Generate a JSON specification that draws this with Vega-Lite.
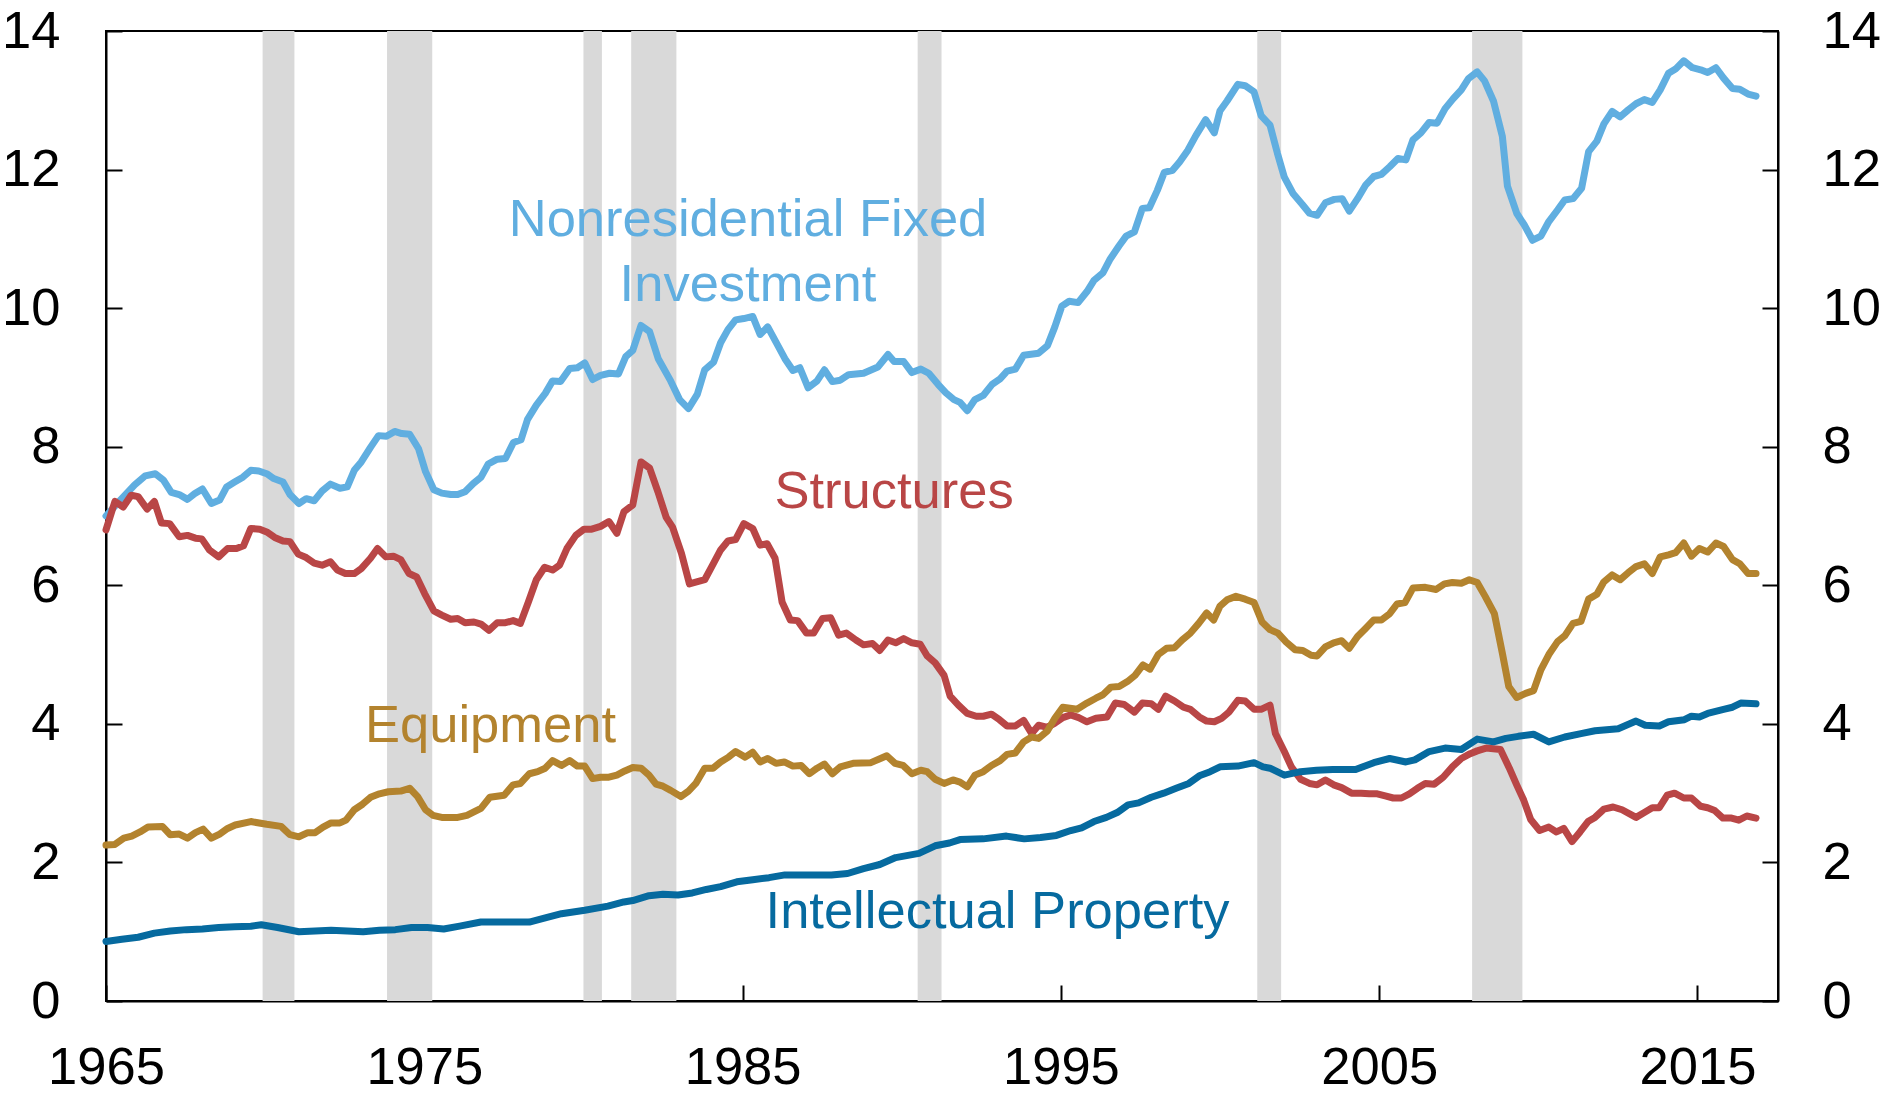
{
  "$schema": "https://vega.github.io/schema/vega-lite/v6.json",
  "width": 1672,
  "height": 970,
  "autosize": {"type": "none"},
  "padding": {"left": 106, "top": 31, "right": 105, "bottom": 94},
  "background": "white",
  "config": {
    "font": "Liberation Sans",
    "view": {"stroke": "black", "strokeWidth": 2},
    "axis": {
      "grid": false,
      "title": null,
      "labelFont": "Liberation Sans",
      "labelFontSize": 52.5,
      "labelColor": "black",
      "domainColor": "black",
      "domainWidth": 2,
      "tickColor": "black",
      "tickWidth": 2,
      "tickSize": -16,
      "labelOverlap": false,
      "labelFlush": false,
      "labelBound": false
    }
  },
  "datasets": {
    "recessions": [
      {"start": 1969.92, "end": 1970.92},
      {"start": 1973.83, "end": 1975.25},
      {"start": 1980.0, "end": 1980.58},
      {"start": 1981.5, "end": 1982.92},
      {"start": 1990.5, "end": 1991.25},
      {"start": 2001.17, "end": 2001.92},
      {"start": 2007.92, "end": 2009.5}
    ],
    "labels": [
      {"series": "NFI", "year": 1985.17, "value": 11.04, "text": "Nonresidential Fixed"},
      {"series": "NFI", "year": 1985.17, "value": 10.1, "text": "Investment"},
      {"series": "Structures", "year": 1989.76, "value": 7.11, "text": "Structures"},
      {"series": "Equipment", "year": 1977.08, "value": 3.74, "text": "Equipment"},
      {"series": "IP", "year": 1993.01, "value": 1.05, "text": "Intellectual Property"}
    ],
    "series": [
      {"series":"NFI","year":1965.0,"value":7.0},
      {"series":"NFI","year":1965.45,"value":7.23},
      {"series":"NFI","year":1965.9,"value":7.45},
      {"series":"NFI","year":1966.23,"value":7.58},
      {"series":"NFI","year":1966.55,"value":7.61},
      {"series":"NFI","year":1966.8,"value":7.52},
      {"series":"NFI","year":1967.05,"value":7.34},
      {"series":"NFI","year":1967.3,"value":7.31},
      {"series":"NFI","year":1967.56,"value":7.24},
      {"series":"NFI","year":1967.78,"value":7.32},
      {"series":"NFI","year":1968.03,"value":7.39},
      {"series":"NFI","year":1968.31,"value":7.18},
      {"series":"NFI","year":1968.57,"value":7.23},
      {"series":"NFI","year":1968.79,"value":7.42},
      {"series":"NFI","year":1969.04,"value":7.49},
      {"series":"NFI","year":1969.3,"value":7.56},
      {"series":"NFI","year":1969.55,"value":7.66},
      {"series":"NFI","year":1969.8,"value":7.65},
      {"series":"NFI","year":1970.05,"value":7.61},
      {"series":"NFI","year":1970.27,"value":7.54},
      {"series":"NFI","year":1970.56,"value":7.49},
      {"series":"NFI","year":1970.78,"value":7.31},
      {"series":"NFI","year":1971.06,"value":7.18},
      {"series":"NFI","year":1971.29,"value":7.25},
      {"series":"NFI","year":1971.54,"value":7.22},
      {"series":"NFI","year":1971.79,"value":7.36},
      {"series":"NFI","year":1972.05,"value":7.46},
      {"series":"NFI","year":1972.35,"value":7.4},
      {"series":"NFI","year":1972.58,"value":7.42},
      {"series":"NFI","year":1972.8,"value":7.66},
      {"series":"NFI","year":1973.02,"value":7.78},
      {"series":"NFI","year":1973.31,"value":7.99},
      {"series":"NFI","year":1973.56,"value":8.16},
      {"series":"NFI","year":1973.81,"value":8.15},
      {"series":"NFI","year":1974.07,"value":8.22},
      {"series":"NFI","year":1974.29,"value":8.19},
      {"series":"NFI","year":1974.54,"value":8.18},
      {"series":"NFI","year":1974.82,"value":7.97},
      {"series":"NFI","year":1975.04,"value":7.64},
      {"series":"NFI","year":1975.3,"value":7.38},
      {"series":"NFI","year":1975.55,"value":7.33},
      {"series":"NFI","year":1975.83,"value":7.31},
      {"series":"NFI","year":1976.05,"value":7.31},
      {"series":"NFI","year":1976.28,"value":7.35},
      {"series":"NFI","year":1976.54,"value":7.47},
      {"series":"NFI","year":1976.78,"value":7.56},
      {"series":"NFI","year":1977.01,"value":7.75},
      {"series":"NFI","year":1977.29,"value":7.82},
      {"series":"NFI","year":1977.55,"value":7.83},
      {"series":"NFI","year":1977.8,"value":8.06},
      {"series":"NFI","year":1978.04,"value":8.1},
      {"series":"NFI","year":1978.24,"value":8.39},
      {"series":"NFI","year":1978.52,"value":8.6},
      {"series":"NFI","year":1978.8,"value":8.77},
      {"series":"NFI","year":1979.03,"value":8.95},
      {"series":"NFI","year":1979.28,"value":8.94},
      {"series":"NFI","year":1979.57,"value":9.13},
      {"series":"NFI","year":1979.81,"value":9.14},
      {"series":"NFI","year":1980.04,"value":9.21},
      {"series":"NFI","year":1980.29,"value":8.97},
      {"series":"NFI","year":1980.54,"value":9.03},
      {"series":"NFI","year":1980.82,"value":9.06},
      {"series":"NFI","year":1981.1,"value":9.05},
      {"series":"NFI","year":1981.33,"value":9.3},
      {"series":"NFI","year":1981.55,"value":9.39},
      {"series":"NFI","year":1981.81,"value":9.75},
      {"series":"NFI","year":1982.08,"value":9.66},
      {"series":"NFI","year":1982.35,"value":9.27},
      {"series":"NFI","year":1982.74,"value":8.95},
      {"series":"NFI","year":1983.02,"value":8.68},
      {"series":"NFI","year":1983.3,"value":8.55},
      {"series":"NFI","year":1983.58,"value":8.76},
      {"series":"NFI","year":1983.81,"value":9.11},
      {"series":"NFI","year":1984.09,"value":9.22},
      {"series":"NFI","year":1984.31,"value":9.5},
      {"series":"NFI","year":1984.54,"value":9.69},
      {"series":"NFI","year":1984.78,"value":9.83},
      {"series":"NFI","year":1985.04,"value":9.85},
      {"series":"NFI","year":1985.32,"value":9.88},
      {"series":"NFI","year":1985.55,"value":9.62},
      {"series":"NFI","year":1985.79,"value":9.73},
      {"series":"NFI","year":1986.05,"value":9.51},
      {"series":"NFI","year":1986.33,"value":9.27},
      {"series":"NFI","year":1986.58,"value":9.1},
      {"series":"NFI","year":1986.8,"value":9.14},
      {"series":"NFI","year":1987.06,"value":8.85},
      {"series":"NFI","year":1987.34,"value":8.95},
      {"series":"NFI","year":1987.57,"value":9.11},
      {"series":"NFI","year":1987.82,"value":8.94},
      {"series":"NFI","year":1988.07,"value":8.96},
      {"series":"NFI","year":1988.33,"value":9.04},
      {"series":"NFI","year":1988.8,"value":9.06},
      {"series":"NFI","year":1989.25,"value":9.15},
      {"series":"NFI","year":1989.57,"value":9.33},
      {"series":"NFI","year":1989.76,"value":9.23},
      {"series":"NFI","year":1990.06,"value":9.23},
      {"series":"NFI","year":1990.32,"value":9.07},
      {"series":"NFI","year":1990.6,"value":9.12},
      {"series":"NFI","year":1990.85,"value":9.06},
      {"series":"NFI","year":1991.14,"value":8.9},
      {"series":"NFI","year":1991.38,"value":8.78},
      {"series":"NFI","year":1991.64,"value":8.68},
      {"series":"NFI","year":1991.83,"value":8.64},
      {"series":"NFI","year":1992.06,"value":8.52},
      {"series":"NFI","year":1992.3,"value":8.68},
      {"series":"NFI","year":1992.56,"value":8.74},
      {"series":"NFI","year":1992.84,"value":8.9},
      {"series":"NFI","year":1993.09,"value":8.98},
      {"series":"NFI","year":1993.31,"value":9.09},
      {"series":"NFI","year":1993.57,"value":9.12},
      {"series":"NFI","year":1993.83,"value":9.32},
      {"series":"NFI","year":1994.3,"value":9.35},
      {"series":"NFI","year":1994.58,"value":9.46},
      {"series":"NFI","year":1994.81,"value":9.73},
      {"series":"NFI","year":1995.03,"value":10.03},
      {"series":"NFI","year":1995.26,"value":10.1},
      {"series":"NFI","year":1995.54,"value":10.08},
      {"series":"NFI","year":1995.82,"value":10.24},
      {"series":"NFI","year":1996.04,"value":10.4},
      {"series":"NFI","year":1996.32,"value":10.51},
      {"series":"NFI","year":1996.55,"value":10.71},
      {"series":"NFI","year":1996.83,"value":10.9},
      {"series":"NFI","year":1997.05,"value":11.04},
      {"series":"NFI","year":1997.31,"value":11.1},
      {"series":"NFI","year":1997.56,"value":11.44},
      {"series":"NFI","year":1997.78,"value":11.45},
      {"series":"NFI","year":1998.03,"value":11.7},
      {"series":"NFI","year":1998.25,"value":11.96},
      {"series":"NFI","year":1998.51,"value":11.99},
      {"series":"NFI","year":1998.73,"value":12.11},
      {"series":"NFI","year":1998.99,"value":12.28},
      {"series":"NFI","year":1999.24,"value":12.49},
      {"series":"NFI","year":1999.55,"value":12.72},
      {"series":"NFI","year":1999.82,"value":12.53},
      {"series":"NFI","year":2000.0,"value":12.85},
      {"series":"NFI","year":2000.22,"value":12.99},
      {"series":"NFI","year":2000.56,"value":13.23},
      {"series":"NFI","year":2000.79,"value":13.21},
      {"series":"NFI","year":2001.07,"value":13.12},
      {"series":"NFI","year":2001.29,"value":12.78},
      {"series":"NFI","year":2001.57,"value":12.64},
      {"series":"NFI","year":2001.8,"value":12.24},
      {"series":"NFI","year":2002.02,"value":11.89},
      {"series":"NFI","year":2002.3,"value":11.65},
      {"series":"NFI","year":2002.58,"value":11.5},
      {"series":"NFI","year":2002.81,"value":11.37},
      {"series":"NFI","year":2003.05,"value":11.34},
      {"series":"NFI","year":2003.31,"value":11.52},
      {"series":"NFI","year":2003.59,"value":11.57},
      {"series":"NFI","year":2003.84,"value":11.58},
      {"series":"NFI","year":2004.06,"value":11.4},
      {"series":"NFI","year":2004.32,"value":11.58},
      {"series":"NFI","year":2004.58,"value":11.78},
      {"series":"NFI","year":2004.83,"value":11.9},
      {"series":"NFI","year":2005.07,"value":11.93},
      {"series":"NFI","year":2005.33,"value":12.04},
      {"series":"NFI","year":2005.59,"value":12.16},
      {"series":"NFI","year":2005.84,"value":12.14},
      {"series":"NFI","year":2006.06,"value":12.43},
      {"series":"NFI","year":2006.31,"value":12.53},
      {"series":"NFI","year":2006.57,"value":12.68},
      {"series":"NFI","year":2006.82,"value":12.67},
      {"series":"NFI","year":2007.07,"value":12.88},
      {"series":"NFI","year":2007.32,"value":13.02},
      {"series":"NFI","year":2007.58,"value":13.15},
      {"series":"NFI","year":2007.8,"value":13.31},
      {"series":"NFI","year":2008.08,"value":13.41},
      {"series":"NFI","year":2008.31,"value":13.28},
      {"series":"NFI","year":2008.59,"value":12.99},
      {"series":"NFI","year":2008.87,"value":12.48},
      {"series":"NFI","year":2009.03,"value":11.76},
      {"series":"NFI","year":2009.32,"value":11.37},
      {"series":"NFI","year":2009.56,"value":11.2},
      {"series":"NFI","year":2009.82,"value":10.98},
      {"series":"NFI","year":2010.08,"value":11.04},
      {"series":"NFI","year":2010.33,"value":11.25},
      {"series":"NFI","year":2010.61,"value":11.42},
      {"series":"NFI","year":2010.83,"value":11.56},
      {"series":"NFI","year":2011.09,"value":11.58},
      {"series":"NFI","year":2011.36,"value":11.73},
      {"series":"NFI","year":2011.58,"value":12.26},
      {"series":"NFI","year":2011.84,"value":12.41},
      {"series":"NFI","year":2012.06,"value":12.66},
      {"series":"NFI","year":2012.32,"value":12.84},
      {"series":"NFI","year":2012.57,"value":12.76},
      {"series":"NFI","year":2012.82,"value":12.86},
      {"series":"NFI","year":2013.07,"value":12.95},
      {"series":"NFI","year":2013.33,"value":13.01},
      {"series":"NFI","year":2013.58,"value":12.97},
      {"series":"NFI","year":2013.83,"value":13.15},
      {"series":"NFI","year":2014.09,"value":13.39},
      {"series":"NFI","year":2014.31,"value":13.45},
      {"series":"NFI","year":2014.57,"value":13.57},
      {"series":"NFI","year":2014.84,"value":13.47},
      {"series":"NFI","year":2015.1,"value":13.44},
      {"series":"NFI","year":2015.32,"value":13.4},
      {"series":"NFI","year":2015.58,"value":13.47},
      {"series":"NFI","year":2015.82,"value":13.32},
      {"series":"NFI","year":2016.1,"value":13.17},
      {"series":"NFI","year":2016.33,"value":13.16},
      {"series":"NFI","year":2016.59,"value":13.09},
      {"series":"NFI","year":2016.84,"value":13.06},

      {"series":"Structures","year":1965.0,"value":6.8},
      {"series":"Structures","year":1965.28,"value":7.21},
      {"series":"Structures","year":1965.54,"value":7.13},
      {"series":"Structures","year":1965.79,"value":7.3},
      {"series":"Structures","year":1966.01,"value":7.28},
      {"series":"Structures","year":1966.29,"value":7.1},
      {"series":"Structures","year":1966.52,"value":7.21},
      {"series":"Structures","year":1966.74,"value":6.9},
      {"series":"Structures","year":1967.0,"value":6.89},
      {"series":"Structures","year":1967.3,"value":6.7},
      {"series":"Structures","year":1967.56,"value":6.72},
      {"series":"Structures","year":1967.81,"value":6.68},
      {"series":"Structures","year":1968.01,"value":6.67},
      {"series":"Structures","year":1968.25,"value":6.51},
      {"series":"Structures","year":1968.54,"value":6.41},
      {"series":"Structures","year":1968.82,"value":6.53},
      {"series":"Structures","year":1969.1,"value":6.53},
      {"series":"Structures","year":1969.32,"value":6.57},
      {"series":"Structures","year":1969.55,"value":6.82},
      {"series":"Structures","year":1969.83,"value":6.81},
      {"series":"Structures","year":1970.05,"value":6.77},
      {"series":"Structures","year":1970.3,"value":6.69},
      {"series":"Structures","year":1970.56,"value":6.64},
      {"series":"Structures","year":1970.78,"value":6.63},
      {"series":"Structures","year":1971.04,"value":6.45},
      {"series":"Structures","year":1971.29,"value":6.4},
      {"series":"Structures","year":1971.54,"value":6.32},
      {"series":"Structures","year":1971.79,"value":6.29},
      {"series":"Structures","year":1972.05,"value":6.34},
      {"series":"Structures","year":1972.27,"value":6.22},
      {"series":"Structures","year":1972.52,"value":6.17},
      {"series":"Structures","year":1972.8,"value":6.17},
      {"series":"Structures","year":1973.02,"value":6.24},
      {"series":"Structures","year":1973.31,"value":6.39},
      {"series":"Structures","year":1973.53,"value":6.53},
      {"series":"Structures","year":1973.79,"value":6.41},
      {"series":"Structures","year":1974.03,"value":6.42},
      {"series":"Structures","year":1974.26,"value":6.37},
      {"series":"Structures","year":1974.52,"value":6.17},
      {"series":"Structures","year":1974.76,"value":6.12},
      {"series":"Structures","year":1975.01,"value":5.88},
      {"series":"Structures","year":1975.3,"value":5.63},
      {"series":"Structures","year":1975.55,"value":5.57},
      {"series":"Structures","year":1975.83,"value":5.51},
      {"series":"Structures","year":1976.05,"value":5.52},
      {"series":"Structures","year":1976.28,"value":5.46},
      {"series":"Structures","year":1976.56,"value":5.47},
      {"series":"Structures","year":1976.78,"value":5.44},
      {"series":"Structures","year":1977.03,"value":5.35},
      {"series":"Structures","year":1977.29,"value":5.46},
      {"series":"Structures","year":1977.55,"value":5.46},
      {"series":"Structures","year":1977.79,"value":5.49},
      {"series":"Structures","year":1978.02,"value":5.45},
      {"series":"Structures","year":1978.27,"value":5.76},
      {"series":"Structures","year":1978.52,"value":6.08},
      {"series":"Structures","year":1978.78,"value":6.26},
      {"series":"Structures","year":1979.03,"value":6.22},
      {"series":"Structures","year":1979.25,"value":6.29},
      {"series":"Structures","year":1979.48,"value":6.53},
      {"series":"Structures","year":1979.76,"value":6.72},
      {"series":"Structures","year":1980.02,"value":6.81},
      {"series":"Structures","year":1980.26,"value":6.81},
      {"series":"Structures","year":1980.54,"value":6.85},
      {"series":"Structures","year":1980.8,"value":6.92},
      {"series":"Structures","year":1981.05,"value":6.75},
      {"series":"Structures","year":1981.27,"value":7.06},
      {"series":"Structures","year":1981.55,"value":7.16},
      {"series":"Structures","year":1981.81,"value":7.78},
      {"series":"Structures","year":1982.08,"value":7.69},
      {"series":"Structures","year":1982.34,"value":7.35},
      {"series":"Structures","year":1982.6,"value":6.98},
      {"series":"Structures","year":1982.8,"value":6.84},
      {"series":"Structures","year":1983.08,"value":6.46},
      {"series":"Structures","year":1983.33,"value":6.02},
      {"series":"Structures","year":1983.81,"value":6.08},
      {"series":"Structures","year":1984.09,"value":6.32},
      {"series":"Structures","year":1984.31,"value":6.51},
      {"series":"Structures","year":1984.54,"value":6.64},
      {"series":"Structures","year":1984.78,"value":6.66},
      {"series":"Structures","year":1985.04,"value":6.89},
      {"series":"Structures","year":1985.32,"value":6.82},
      {"series":"Structures","year":1985.55,"value":6.58},
      {"series":"Structures","year":1985.77,"value":6.6},
      {"series":"Structures","year":1986.02,"value":6.39},
      {"series":"Structures","year":1986.24,"value":5.76},
      {"series":"Structures","year":1986.5,"value":5.5},
      {"series":"Structures","year":1986.73,"value":5.49},
      {"series":"Structures","year":1987.01,"value":5.31},
      {"series":"Structures","year":1987.23,"value":5.31},
      {"series":"Structures","year":1987.51,"value":5.52},
      {"series":"Structures","year":1987.77,"value":5.53},
      {"series":"Structures","year":1988.02,"value":5.28},
      {"series":"Structures","year":1988.26,"value":5.31},
      {"series":"Structures","year":1988.56,"value":5.21},
      {"series":"Structures","year":1988.8,"value":5.14},
      {"series":"Structures","year":1989.08,"value":5.16},
      {"series":"Structures","year":1989.31,"value":5.06},
      {"series":"Structures","year":1989.57,"value":5.21},
      {"series":"Structures","year":1989.81,"value":5.17},
      {"series":"Structures","year":1990.06,"value":5.23},
      {"series":"Structures","year":1990.32,"value":5.17},
      {"series":"Structures","year":1990.58,"value":5.15},
      {"series":"Structures","year":1990.8,"value":4.98},
      {"series":"Structures","year":1991.05,"value":4.88},
      {"series":"Structures","year":1991.33,"value":4.7},
      {"series":"Structures","year":1991.52,"value":4.4},
      {"series":"Structures","year":1991.78,"value":4.27},
      {"series":"Structures","year":1992.06,"value":4.15},
      {"series":"Structures","year":1992.34,"value":4.11},
      {"series":"Structures","year":1992.56,"value":4.11},
      {"series":"Structures","year":1992.82,"value":4.14},
      {"series":"Structures","year":1993.07,"value":4.06},
      {"series":"Structures","year":1993.31,"value":3.97},
      {"series":"Structures","year":1993.57,"value":3.97},
      {"series":"Structures","year":1993.83,"value":4.05},
      {"series":"Structures","year":1994.08,"value":3.86},
      {"series":"Structures","year":1994.3,"value":3.98},
      {"series":"Structures","year":1994.58,"value":3.95},
      {"series":"Structures","year":1994.81,"value":4.01},
      {"series":"Structures","year":1995.06,"value":4.09},
      {"series":"Structures","year":1995.31,"value":4.13},
      {"series":"Structures","year":1995.56,"value":4.09},
      {"series":"Structures","year":1995.82,"value":4.03},
      {"series":"Structures","year":1996.1,"value":4.08},
      {"series":"Structures","year":1996.45,"value":4.1},
      {"series":"Structures","year":1996.71,"value":4.3},
      {"series":"Structures","year":1996.99,"value":4.28},
      {"series":"Structures","year":1997.31,"value":4.17},
      {"series":"Structures","year":1997.56,"value":4.3},
      {"series":"Structures","year":1997.84,"value":4.29},
      {"series":"Structures","year":1998.06,"value":4.21},
      {"series":"Structures","year":1998.29,"value":4.4},
      {"series":"Structures","year":1998.57,"value":4.33},
      {"series":"Structures","year":1998.85,"value":4.24},
      {"series":"Structures","year":1999.07,"value":4.21},
      {"series":"Structures","year":1999.35,"value":4.1},
      {"series":"Structures","year":1999.58,"value":4.04},
      {"series":"Structures","year":1999.82,"value":4.03},
      {"series":"Structures","year":2000.05,"value":4.08},
      {"series":"Structures","year":2000.28,"value":4.17},
      {"series":"Structures","year":2000.56,"value":4.34},
      {"series":"Structures","year":2000.79,"value":4.33},
      {"series":"Structures","year":2001.07,"value":4.21},
      {"series":"Structures","year":2001.29,"value":4.21},
      {"series":"Structures","year":2001.57,"value":4.27},
      {"series":"Structures","year":2001.74,"value":3.86},
      {"series":"Structures","year":2002.02,"value":3.6},
      {"series":"Structures","year":2002.24,"value":3.38},
      {"series":"Structures","year":2002.53,"value":3.2},
      {"series":"Structures","year":2002.81,"value":3.14},
      {"series":"Structures","year":2003.05,"value":3.12},
      {"series":"Structures","year":2003.31,"value":3.19},
      {"series":"Structures","year":2003.57,"value":3.12},
      {"series":"Structures","year":2003.82,"value":3.08},
      {"series":"Structures","year":2004.13,"value":3.0},
      {"series":"Structures","year":2004.43,"value":3.0},
      {"series":"Structures","year":2004.69,"value":2.99},
      {"series":"Structures","year":2004.94,"value":2.99},
      {"series":"Structures","year":2005.19,"value":2.96},
      {"series":"Structures","year":2005.44,"value":2.93},
      {"series":"Structures","year":2005.7,"value":2.93},
      {"series":"Structures","year":2005.95,"value":2.99},
      {"series":"Structures","year":2006.2,"value":3.07},
      {"series":"Structures","year":2006.45,"value":3.14},
      {"series":"Structures","year":2006.73,"value":3.13},
      {"series":"Structures","year":2007.01,"value":3.23},
      {"series":"Structures","year":2007.3,"value":3.38},
      {"series":"Structures","year":2007.58,"value":3.5},
      {"series":"Structures","year":2007.86,"value":3.57},
      {"series":"Structures","year":2008.08,"value":3.61},
      {"series":"Structures","year":2008.36,"value":3.65},
      {"series":"Structures","year":2008.81,"value":3.63},
      {"series":"Structures","year":2009.09,"value":3.36},
      {"series":"Structures","year":2009.32,"value":3.12},
      {"series":"Structures","year":2009.54,"value":2.9},
      {"series":"Structures","year":2009.76,"value":2.62},
      {"series":"Structures","year":2010.04,"value":2.46},
      {"series":"Structures","year":2010.33,"value":2.51},
      {"series":"Structures","year":2010.57,"value":2.44},
      {"series":"Structures","year":2010.8,"value":2.49},
      {"series":"Structures","year":2011.06,"value":2.3},
      {"series":"Structures","year":2011.31,"value":2.44},
      {"series":"Structures","year":2011.56,"value":2.59},
      {"series":"Structures","year":2011.78,"value":2.65},
      {"series":"Structures","year":2012.06,"value":2.77},
      {"series":"Structures","year":2012.35,"value":2.8},
      {"series":"Structures","year":2012.63,"value":2.76},
      {"series":"Structures","year":2013.07,"value":2.65},
      {"series":"Structures","year":2013.33,"value":2.72},
      {"series":"Structures","year":2013.58,"value":2.79},
      {"series":"Structures","year":2013.8,"value":2.79},
      {"series":"Structures","year":2014.05,"value":2.97},
      {"series":"Structures","year":2014.28,"value":3.0},
      {"series":"Structures","year":2014.57,"value":2.93},
      {"series":"Structures","year":2014.81,"value":2.93},
      {"series":"Structures","year":2015.1,"value":2.81},
      {"series":"Structures","year":2015.32,"value":2.79},
      {"series":"Structures","year":2015.54,"value":2.75},
      {"series":"Structures","year":2015.8,"value":2.64},
      {"series":"Structures","year":2016.07,"value":2.64},
      {"series":"Structures","year":2016.3,"value":2.61},
      {"series":"Structures","year":2016.55,"value":2.67},
      {"series":"Structures","year":2016.84,"value":2.64},

      {"series":"Equipment","year":1965.0,"value":2.25},
      {"series":"Equipment","year":1965.28,"value":2.26},
      {"series":"Equipment","year":1965.56,"value":2.35},
      {"series":"Equipment","year":1965.81,"value":2.38},
      {"series":"Equipment","year":1966.07,"value":2.44},
      {"series":"Equipment","year":1966.32,"value":2.51},
      {"series":"Equipment","year":1966.77,"value":2.52},
      {"series":"Equipment","year":1967.02,"value":2.4},
      {"series":"Equipment","year":1967.3,"value":2.41},
      {"series":"Equipment","year":1967.56,"value":2.35},
      {"series":"Equipment","year":1967.81,"value":2.43},
      {"series":"Equipment","year":1968.05,"value":2.48},
      {"series":"Equipment","year":1968.31,"value":2.35},
      {"series":"Equipment","year":1968.57,"value":2.41},
      {"series":"Equipment","year":1968.82,"value":2.49},
      {"series":"Equipment","year":1969.06,"value":2.54},
      {"series":"Equipment","year":1969.55,"value":2.59},
      {"series":"Equipment","year":1970.05,"value":2.55},
      {"series":"Equipment","year":1970.5,"value":2.52},
      {"series":"Equipment","year":1970.78,"value":2.4},
      {"series":"Equipment","year":1971.06,"value":2.37},
      {"series":"Equipment","year":1971.34,"value":2.43},
      {"series":"Equipment","year":1971.57,"value":2.43},
      {"series":"Equipment","year":1971.82,"value":2.51},
      {"series":"Equipment","year":1972.07,"value":2.57},
      {"series":"Equipment","year":1972.35,"value":2.57},
      {"series":"Equipment","year":1972.54,"value":2.61},
      {"series":"Equipment","year":1972.8,"value":2.76},
      {"series":"Equipment","year":1973.06,"value":2.84},
      {"series":"Equipment","year":1973.31,"value":2.94},
      {"series":"Equipment","year":1973.59,"value":2.99},
      {"series":"Equipment","year":1973.87,"value":3.02},
      {"series":"Equipment","year":1974.26,"value":3.03},
      {"series":"Equipment","year":1974.54,"value":3.07},
      {"series":"Equipment","year":1974.79,"value":2.95},
      {"series":"Equipment","year":1975.04,"value":2.76},
      {"series":"Equipment","year":1975.27,"value":2.68},
      {"series":"Equipment","year":1975.55,"value":2.65},
      {"series":"Equipment","year":1976.05,"value":2.65},
      {"series":"Equipment","year":1976.34,"value":2.68},
      {"series":"Equipment","year":1976.78,"value":2.78},
      {"series":"Equipment","year":1977.06,"value":2.94},
      {"series":"Equipment","year":1977.51,"value":2.97},
      {"series":"Equipment","year":1977.79,"value":3.12},
      {"series":"Equipment","year":1978.02,"value":3.14},
      {"series":"Equipment","year":1978.3,"value":3.28},
      {"series":"Equipment","year":1978.56,"value":3.31},
      {"series":"Equipment","year":1978.8,"value":3.36},
      {"series":"Equipment","year":1979.03,"value":3.47},
      {"series":"Equipment","year":1979.31,"value":3.4},
      {"series":"Equipment","year":1979.57,"value":3.47},
      {"series":"Equipment","year":1979.81,"value":3.39},
      {"series":"Equipment","year":1980.04,"value":3.39},
      {"series":"Equipment","year":1980.29,"value":3.21},
      {"series":"Equipment","year":1980.54,"value":3.23},
      {"series":"Equipment","year":1980.8,"value":3.23},
      {"series":"Equipment","year":1981.05,"value":3.26},
      {"series":"Equipment","year":1981.3,"value":3.32},
      {"series":"Equipment","year":1981.55,"value":3.37},
      {"series":"Equipment","year":1981.81,"value":3.36},
      {"series":"Equipment","year":1982.06,"value":3.26},
      {"series":"Equipment","year":1982.28,"value":3.13},
      {"series":"Equipment","year":1982.5,"value":3.1},
      {"series":"Equipment","year":1982.74,"value":3.04},
      {"series":"Equipment","year":1983.06,"value":2.95},
      {"series":"Equipment","year":1983.3,"value":3.03},
      {"series":"Equipment","year":1983.53,"value":3.14},
      {"series":"Equipment","year":1983.81,"value":3.36},
      {"series":"Equipment","year":1984.07,"value":3.36},
      {"series":"Equipment","year":1984.31,"value":3.45},
      {"series":"Equipment","year":1984.56,"value":3.52},
      {"series":"Equipment","year":1984.78,"value":3.6},
      {"series":"Equipment","year":1985.08,"value":3.52},
      {"series":"Equipment","year":1985.32,"value":3.59},
      {"series":"Equipment","year":1985.55,"value":3.45},
      {"series":"Equipment","year":1985.79,"value":3.5},
      {"series":"Equipment","year":1986.05,"value":3.43},
      {"series":"Equipment","year":1986.31,"value":3.45},
      {"series":"Equipment","year":1986.58,"value":3.39},
      {"series":"Equipment","year":1986.84,"value":3.4},
      {"series":"Equipment","year":1987.1,"value":3.28},
      {"series":"Equipment","year":1987.34,"value":3.36},
      {"series":"Equipment","year":1987.57,"value":3.42},
      {"series":"Equipment","year":1987.82,"value":3.28},
      {"series":"Equipment","year":1988.07,"value":3.38},
      {"series":"Equipment","year":1988.47,"value":3.43},
      {"series":"Equipment","year":1989.03,"value":3.44},
      {"series":"Equipment","year":1989.53,"value":3.54},
      {"series":"Equipment","year":1989.79,"value":3.43},
      {"series":"Equipment","year":1990.04,"value":3.4},
      {"series":"Equipment","year":1990.32,"value":3.28},
      {"series":"Equipment","year":1990.6,"value":3.33},
      {"series":"Equipment","year":1990.8,"value":3.31},
      {"series":"Equipment","year":1991.05,"value":3.2},
      {"series":"Equipment","year":1991.33,"value":3.14},
      {"series":"Equipment","year":1991.61,"value":3.19},
      {"series":"Equipment","year":1991.83,"value":3.16},
      {"series":"Equipment","year":1992.06,"value":3.09},
      {"series":"Equipment","year":1992.3,"value":3.26},
      {"series":"Equipment","year":1992.56,"value":3.31},
      {"series":"Equipment","year":1992.82,"value":3.4},
      {"series":"Equipment","year":1993.09,"value":3.47},
      {"series":"Equipment","year":1993.31,"value":3.56},
      {"series":"Equipment","year":1993.57,"value":3.58},
      {"series":"Equipment","year":1993.83,"value":3.74},
      {"series":"Equipment","year":1994.08,"value":3.81},
      {"series":"Equipment","year":1994.3,"value":3.79},
      {"series":"Equipment","year":1994.58,"value":3.9},
      {"series":"Equipment","year":1994.81,"value":4.08},
      {"series":"Equipment","year":1995.06,"value":4.24},
      {"series":"Equipment","year":1995.51,"value":4.21},
      {"series":"Equipment","year":1995.82,"value":4.3},
      {"series":"Equipment","year":1996.1,"value":4.37},
      {"series":"Equipment","year":1996.32,"value":4.42},
      {"series":"Equipment","year":1996.57,"value":4.53},
      {"series":"Equipment","year":1996.83,"value":4.54},
      {"series":"Equipment","year":1997.09,"value":4.61},
      {"series":"Equipment","year":1997.33,"value":4.7},
      {"series":"Equipment","year":1997.58,"value":4.85},
      {"series":"Equipment","year":1997.8,"value":4.79},
      {"series":"Equipment","year":1998.06,"value":5.0},
      {"series":"Equipment","year":1998.32,"value":5.09},
      {"series":"Equipment","year":1998.57,"value":5.1},
      {"series":"Equipment","year":1998.81,"value":5.21},
      {"series":"Equipment","year":1999.07,"value":5.31},
      {"series":"Equipment","year":1999.33,"value":5.45},
      {"series":"Equipment","year":1999.58,"value":5.6},
      {"series":"Equipment","year":1999.8,"value":5.5},
      {"series":"Equipment","year":2000.0,"value":5.7},
      {"series":"Equipment","year":2000.22,"value":5.79},
      {"series":"Equipment","year":2000.5,"value":5.84},
      {"series":"Equipment","year":2000.79,"value":5.8},
      {"series":"Equipment","year":2001.07,"value":5.75},
      {"series":"Equipment","year":2001.32,"value":5.47},
      {"series":"Equipment","year":2001.57,"value":5.36},
      {"series":"Equipment","year":2001.82,"value":5.31},
      {"series":"Equipment","year":2002.08,"value":5.18},
      {"series":"Equipment","year":2002.36,"value":5.07},
      {"series":"Equipment","year":2002.6,"value":5.06},
      {"series":"Equipment","year":2002.86,"value":4.99},
      {"series":"Equipment","year":2003.05,"value":4.98},
      {"series":"Equipment","year":2003.31,"value":5.11},
      {"series":"Equipment","year":2003.57,"value":5.17},
      {"series":"Equipment","year":2003.82,"value":5.2},
      {"series":"Equipment","year":2004.06,"value":5.09},
      {"series":"Equipment","year":2004.32,"value":5.26},
      {"series":"Equipment","year":2004.58,"value":5.38},
      {"series":"Equipment","year":2004.83,"value":5.5},
      {"series":"Equipment","year":2005.07,"value":5.5},
      {"series":"Equipment","year":2005.33,"value":5.59},
      {"series":"Equipment","year":2005.56,"value":5.73},
      {"series":"Equipment","year":2005.81,"value":5.75},
      {"series":"Equipment","year":2006.06,"value":5.96},
      {"series":"Equipment","year":2006.45,"value":5.97},
      {"series":"Equipment","year":2006.79,"value":5.94},
      {"series":"Equipment","year":2007.05,"value":6.02},
      {"series":"Equipment","year":2007.3,"value":6.04},
      {"series":"Equipment","year":2007.58,"value":6.03},
      {"series":"Equipment","year":2007.83,"value":6.08},
      {"series":"Equipment","year":2008.08,"value":6.04},
      {"series":"Equipment","year":2008.33,"value":5.84},
      {"series":"Equipment","year":2008.62,"value":5.59},
      {"series":"Equipment","year":2008.87,"value":5.02},
      {"series":"Equipment","year":2009.07,"value":4.54},
      {"series":"Equipment","year":2009.32,"value":4.38},
      {"series":"Equipment","year":2009.6,"value":4.44},
      {"series":"Equipment","year":2009.85,"value":4.48},
      {"series":"Equipment","year":2010.08,"value":4.78},
      {"series":"Equipment","year":2010.33,"value":5.0},
      {"series":"Equipment","year":2010.61,"value":5.19},
      {"series":"Equipment","year":2010.83,"value":5.27},
      {"series":"Equipment","year":2011.09,"value":5.45},
      {"series":"Equipment","year":2011.34,"value":5.48},
      {"series":"Equipment","year":2011.58,"value":5.8},
      {"series":"Equipment","year":2011.84,"value":5.87},
      {"series":"Equipment","year":2012.06,"value":6.05},
      {"series":"Equipment","year":2012.32,"value":6.15},
      {"series":"Equipment","year":2012.57,"value":6.08},
      {"series":"Equipment","year":2012.82,"value":6.18},
      {"series":"Equipment","year":2013.07,"value":6.27},
      {"series":"Equipment","year":2013.33,"value":6.31},
      {"series":"Equipment","year":2013.58,"value":6.17},
      {"series":"Equipment","year":2013.83,"value":6.41},
      {"series":"Equipment","year":2014.09,"value":6.44},
      {"series":"Equipment","year":2014.31,"value":6.47},
      {"series":"Equipment","year":2014.57,"value":6.61},
      {"series":"Equipment","year":2014.81,"value":6.42},
      {"series":"Equipment","year":2015.06,"value":6.53},
      {"series":"Equipment","year":2015.32,"value":6.48},
      {"series":"Equipment","year":2015.58,"value":6.61},
      {"series":"Equipment","year":2015.82,"value":6.56},
      {"series":"Equipment","year":2016.1,"value":6.37},
      {"series":"Equipment","year":2016.33,"value":6.31},
      {"series":"Equipment","year":2016.59,"value":6.17},
      {"series":"Equipment","year":2016.84,"value":6.17},

      {"series":"IP","year":1965.0,"value":0.86},
      {"series":"IP","year":1965.5,"value":0.89},
      {"series":"IP","year":1966.01,"value":0.92},
      {"series":"IP","year":1966.52,"value":0.98},
      {"series":"IP","year":1967.02,"value":1.01},
      {"series":"IP","year":1967.53,"value":1.03},
      {"series":"IP","year":1968.03,"value":1.04},
      {"series":"IP","year":1968.54,"value":1.06},
      {"series":"IP","year":1969.04,"value":1.07},
      {"series":"IP","year":1969.55,"value":1.08},
      {"series":"IP","year":1969.88,"value":1.1},
      {"series":"IP","year":1970.39,"value":1.06},
      {"series":"IP","year":1971.06,"value":1.0},
      {"series":"IP","year":1971.57,"value":1.01},
      {"series":"IP","year":1972.07,"value":1.02},
      {"series":"IP","year":1972.58,"value":1.01},
      {"series":"IP","year":1973.08,"value":1.0},
      {"series":"IP","year":1973.59,"value":1.02},
      {"series":"IP","year":1974.09,"value":1.03},
      {"series":"IP","year":1974.6,"value":1.06},
      {"series":"IP","year":1975.1,"value":1.06},
      {"series":"IP","year":1975.61,"value":1.04},
      {"series":"IP","year":1976.11,"value":1.08},
      {"series":"IP","year":1976.78,"value":1.14},
      {"series":"IP","year":1977.57,"value":1.14},
      {"series":"IP","year":1978.3,"value":1.14},
      {"series":"IP","year":1978.8,"value":1.2},
      {"series":"IP","year":1979.31,"value":1.26},
      {"series":"IP","year":1980.04,"value":1.31},
      {"series":"IP","year":1980.77,"value":1.37},
      {"series":"IP","year":1981.27,"value":1.43},
      {"series":"IP","year":1981.55,"value":1.45},
      {"series":"IP","year":1982.06,"value":1.52},
      {"series":"IP","year":1982.5,"value":1.54},
      {"series":"IP","year":1982.97,"value":1.53},
      {"series":"IP","year":1983.42,"value":1.56},
      {"series":"IP","year":1983.86,"value":1.61},
      {"series":"IP","year":1984.31,"value":1.65},
      {"series":"IP","year":1984.82,"value":1.72},
      {"series":"IP","year":1985.32,"value":1.75},
      {"series":"IP","year":1985.83,"value":1.78},
      {"series":"IP","year":1986.33,"value":1.82},
      {"series":"IP","year":1986.89,"value":1.82},
      {"series":"IP","year":1987.79,"value":1.82},
      {"series":"IP","year":1988.3,"value":1.84},
      {"series":"IP","year":1988.8,"value":1.91},
      {"series":"IP","year":1989.31,"value":1.97},
      {"series":"IP","year":1989.81,"value":2.07},
      {"series":"IP","year":1990.54,"value":2.13},
      {"series":"IP","year":1991.05,"value":2.24},
      {"series":"IP","year":1991.5,"value":2.28},
      {"series":"IP","year":1991.83,"value":2.33},
      {"series":"IP","year":1992.56,"value":2.34},
      {"series":"IP","year":1993.29,"value":2.38},
      {"series":"IP","year":1993.85,"value":2.34},
      {"series":"IP","year":1994.36,"value":2.36},
      {"series":"IP","year":1994.86,"value":2.39},
      {"series":"IP","year":1995.31,"value":2.46},
      {"series":"IP","year":1995.65,"value":2.5},
      {"series":"IP","year":1996.04,"value":2.59},
      {"series":"IP","year":1996.43,"value":2.65},
      {"series":"IP","year":1996.77,"value":2.72},
      {"series":"IP","year":1997.11,"value":2.83},
      {"series":"IP","year":1997.44,"value":2.86},
      {"series":"IP","year":1997.84,"value":2.94},
      {"series":"IP","year":1998.23,"value":3.0},
      {"series":"IP","year":1998.62,"value":3.07},
      {"series":"IP","year":1999.02,"value":3.14},
      {"series":"IP","year":1999.35,"value":3.25},
      {"series":"IP","year":1999.69,"value":3.31},
      {"series":"IP","year":2000.0,"value":3.38},
      {"series":"IP","year":2000.56,"value":3.39},
      {"series":"IP","year":2001.07,"value":3.44},
      {"series":"IP","year":2001.35,"value":3.38},
      {"series":"IP","year":2001.57,"value":3.36},
      {"series":"IP","year":2002.02,"value":3.26},
      {"series":"IP","year":2002.53,"value":3.31},
      {"series":"IP","year":2003.03,"value":3.33},
      {"series":"IP","year":2003.54,"value":3.34},
      {"series":"IP","year":2004.26,"value":3.34},
      {"series":"IP","year":2004.83,"value":3.44},
      {"series":"IP","year":2005.33,"value":3.5},
      {"series":"IP","year":2005.84,"value":3.45},
      {"series":"IP","year":2006.12,"value":3.48},
      {"series":"IP","year":2006.57,"value":3.6},
      {"series":"IP","year":2007.07,"value":3.65},
      {"series":"IP","year":2007.58,"value":3.63},
      {"series":"IP","year":2008.08,"value":3.78},
      {"series":"IP","year":2008.59,"value":3.74},
      {"series":"IP","year":2008.98,"value":3.79},
      {"series":"IP","year":2009.37,"value":3.82},
      {"series":"IP","year":2009.85,"value":3.85},
      {"series":"IP","year":2010.33,"value":3.74},
      {"series":"IP","year":2010.83,"value":3.81},
      {"series":"IP","year":2011.34,"value":3.86},
      {"series":"IP","year":2011.78,"value":3.9},
      {"series":"IP","year":2012.51,"value":3.93},
      {"series":"IP","year":2013.07,"value":4.04},
      {"series":"IP","year":2013.36,"value":3.98},
      {"series":"IP","year":2013.8,"value":3.97},
      {"series":"IP","year":2014.09,"value":4.03},
      {"series":"IP","year":2014.59,"value":4.06},
      {"series":"IP","year":2014.81,"value":4.11},
      {"series":"IP","year":2015.06,"value":4.1},
      {"series":"IP","year":2015.32,"value":4.15},
      {"series":"IP","year":2015.82,"value":4.21},
      {"series":"IP","year":2016.1,"value":4.24},
      {"series":"IP","year":2016.36,"value":4.3},
      {"series":"IP","year":2016.84,"value":4.29}
    ]
  },
  "resolve": {"axis": {"y": "independent"}},
  "layer": [
    {
      "data": {"name": "recessions"},
      "mark": {"type": "rect", "color": "#D9D9D9"},
      "encoding": {
        "x": {
          "field": "start", "type": "quantitative",
          "scale": {"domain": [1965, 2017.53], "nice": false, "zero": false},
          "axis": {
            "orient": "bottom",
            "values": [1965, 1975, 1985, 1995, 2005, 2015],
            "format": "d",
            "labelBaseline": "alphabetic",
            "labelPadding": 98
          }
        },
        "x2": {"field": "end"}
      }
    },
    {
      "data": {"name": "series"},
      "mark": {"type": "line", "strokeWidth": 7, "strokeCap": "round", "strokeJoin": "round"},
      "encoding": {
        "x": {"field": "year", "type": "quantitative"},
        "y": {
          "field": "value", "type": "quantitative",
          "scale": {"domain": [0, 14], "nice": false, "zero": false},
          "axis": {
            "orient": "left",
            "values": [0, 2, 4, 6, 8, 10, 12, 14],
            "format": "d",
            "labelPadding": 62
          }
        },
        "color": {
          "field": "series", "type": "nominal",
          "scale": {
            "domain": ["NFI", "Structures", "Equipment", "IP"],
            "range": ["#60AEE0", "#B94646", "#B3832E", "#066A9F"]
          },
          "legend": null
        },
        "detail": {"field": "series"}
      }
    },
    {
      "data": {"name": "labels"},
      "mark": {"type": "text", "font": "Liberation Sans", "fontSize": 52.5, "align": "center", "baseline": "alphabetic"},
      "encoding": {
        "x": {"field": "year", "type": "quantitative"},
        "y": {
          "field": "value", "type": "quantitative",
          "axis": {
            "orient": "right",
            "values": [0, 2, 4, 6, 8, 10, 12, 14],
            "format": "d",
            "labelPadding": 60
          }
        },
        "text": {"field": "text"},
        "color": {"field": "series", "type": "nominal", "legend": null}
      }
    }
  ]
}
